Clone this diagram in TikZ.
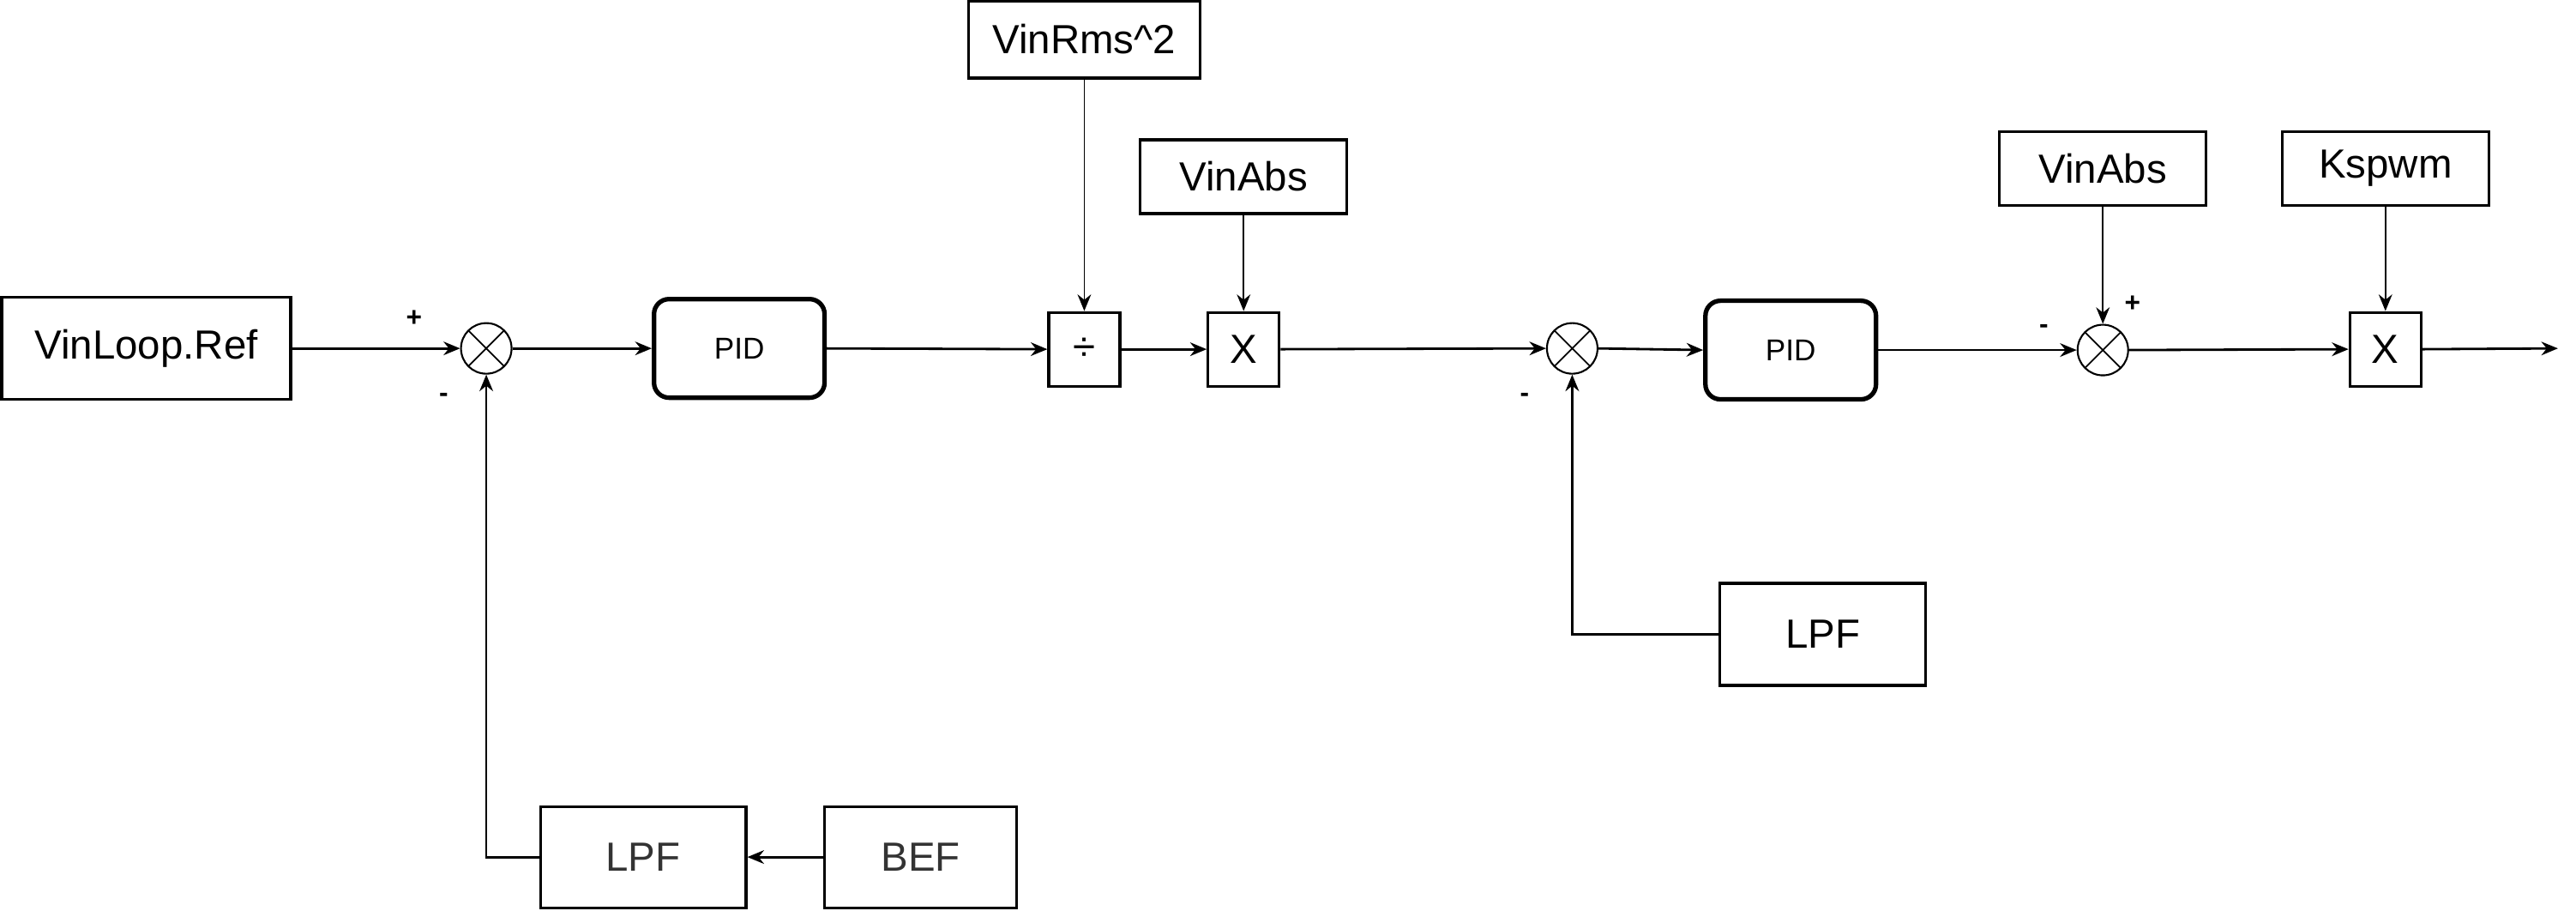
\documentclass[tikz,border=0pt]{standalone}
\usepackage{fontspec}
\setmainfont{Liberation Sans}
\usetikzlibrary{arrows.meta}

\begin{document}
\begin{tikzpicture}[x=0.01916cm,y=-0.01916cm,line width=0.8pt,
  >={Stealth[length=5.5pt,width=4.5pt]},
  block/.style={draw,line width=0.9pt,inner sep=0pt,font=\fontsize{13.5}{16}\selectfont},
  pidbox/.style={draw,line width=1.5pt,rounded corners=5pt,minimum width=1.99cm,
    minimum height=1.15cm,inner sep=0pt,font=\fontsize{10}{12}\selectfont},
  sumjunc/.style={draw,circle,line width=0.6pt,minimum size=0.59cm,inner sep=0pt,
    path picture={\draw[line width=0.5pt]
      (path picture bounding box.north west) -- (path picture bounding box.south east)
      (path picture bounding box.north east) -- (path picture bounding box.south west);}},
  sign/.style={font=\fontsize{9}{10}\selectfont\bfseries},
  feed/.style={->,line width=0.5pt}]
 \useasboundingbox (0,0) rectangle (1568,554);
 % main path
 \node[block,minimum width=3.37cm,minimum height=1.19cm] (ref) at (89,212) {VinLoop.Ref};
 \node[sumjunc] (sum1) at (296,212) {};
 \node[pidbox] (pid1) at (450,212) {PID};
 \node[block,minimum width=0.83cm,minimum height=0.86cm] (div) at (660,212.5) {÷};
 \node[block,minimum width=0.83cm,minimum height=0.86cm] (mul1) at (757,212.5) {X};
 \node[sumjunc] (sum2) at (957,212) {};
 \node[pidbox] (pid2) at (1090,213) {PID};
 \node[sumjunc] (sum3) at (1280,213) {};
 \node[block,minimum width=0.83cm,minimum height=0.86cm] (mul2) at (1452,212.5) {X};
 \coordinate (out) at (1557,212);
 % side inputs
 \node[block,minimum width=2.7cm,minimum height=0.9cm] (rms) at (660,24) {VinRms\textasciicircum 2};
 \node[block,minimum width=2.41cm,minimum height=0.86cm] (abs1) at (757,107.5) {VinAbs};
 \node[block,minimum width=2.41cm,minimum height=0.86cm] (abs2) at (1280,102.5) {VinAbs};
 \node[block,minimum width=2.41cm,minimum height=0.86cm] (kspwm) at (1452,102.5) {Kspwm};
 % feedback filters
 \node[block,minimum width=2.4cm,minimum height=1.18cm,text=black!80] (lpf1) at (391.5,521.5) {LPF};
 \node[block,minimum width=2.24cm,minimum height=1.18cm,text=black!80] (bef) at (560.5,521.5) {BEF};
 \node[block,minimum width=2.4cm,minimum height=1.19cm] (lpf2) at (1109.5,386) {LPF};
 % signs
 \node[sign] (s1p) at (252,194) {+};
 \node[sign] (s1m) at (270,242) {-};
 \node[sign] (s2m) at (928,242) {-};
 \node[sign] (s3m) at (1244,200) {-};
 \node[sign] (s3p) at (1298,185) {+};
 % connections
 \draw[->] (ref.east) -- (sum1.west);
 \draw[->] (sum1.east) -- (pid1.west);
 \draw[->] (pid1.east) -- (div.west);
 \draw[->] (div.east) -- (mul1.west);
 \draw[->] (mul1.east) -- (sum2.west);
 \draw[->] (sum2.east) -- (pid2.west);
 \draw[->] (pid2.east) -- (sum3.west);
 \draw[->] (sum3.east) -- (mul2.west);
 \draw[->] (mul2.east) -- (out);
 \draw[feed] (rms.south) -- (div.north);
 \draw[feed] (abs1.south) -- (mul1.north);
 \draw[feed] (abs2.south) -- (sum3.north);
 \draw[feed] (kspwm.south) -- (mul2.north);
 \draw[->] (bef.west) -- (lpf1.east);
 \draw[->] (lpf1.west) -| (sum1.south);
 \draw[->] (lpf2.west) -| (sum2.south);
\end{tikzpicture}
\end{document}
